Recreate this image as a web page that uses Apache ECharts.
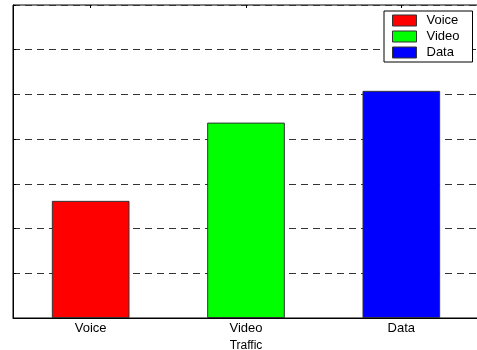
<!DOCTYPE html>
<html><head><meta charset="utf-8">
<script src="https://cdn.jsdelivr.net/npm/echarts@6/dist/echarts.min.js"></script>
<style>html,body{margin:0;padding:0;background:#fff}#c{width:477px;height:350px}</style>
</head><body><div id="c"></div>
<script>
var categories = ['Voice', 'Video', 'Data'];
var seriesNames = ['Voice', 'Video', 'Data'];
var values = [2.62, 4.37, 5.08];
var colors = ['#ff0000', '#00ff00', '#0000ff'];
var xAxisName = 'Traffic';

var series = seriesNames.map(function (n, i) {
  var d = categories.map(function (c, j) { return j === i ? values[i] : '-'; });
  return {
    name: n, type: 'bar', data: d, barWidth: '50%', barGap: '-100%',
    itemStyle: { color: colors[i], borderColor: '#333', borderWidth: 1 },
    silent: true
  };
});

var chart = echarts.init(document.getElementById('c'), null, { renderer: 'canvas' });
chart.setOption({
  animation: false,
  textStyle: { fontFamily: 'Liberation Sans, Arial, sans-serif' },
  grid: { left: 13, top: 5, width: 466, height: 313, outerBoundsMode: 'none', containLabel: false, show: true, borderColor: '#000', borderWidth: 1, backgroundColor: 'transparent' },
  legend: {
    data: seriesNames, orient: 'vertical', left: 384, top: 11, icon: 'rect',
    backgroundColor: '#fff', borderColor: '#000', borderWidth: 1,
    padding: [3, 13, 3, 8], itemWidth: 24, itemHeight: 11, itemGap: 3,
    itemStyle: { borderColor: '#333', borderWidth: 1 },
    textStyle: { fontSize: 13, color: '#000', lineHeight: 13, padding: [0, 0, 0, 5], fontFamily: 'Liberation Sans, Arial, sans-serif' }
  },
  xAxis: [{
    type: 'category', data: categories, position: 'bottom',
    name: xAxisName, nameLocation: 'middle', nameGap: 15,
    nameTextStyle: { fontSize: 12, color: '#000' },
    axisLine: { lineStyle: { color: '#000', width: 1 } },
    axisTick: { show: true, inside: true, length: 3, alignWithLabel: true, lineStyle: { color: '#000' } },
    axisLabel: { fontSize: 13, color: '#000', margin: 4 }
  }, {
    type: 'category', data: categories, position: 'top',
    axisLine: { show: false },
    axisTick: { show: true, inside: true, length: 3, alignWithLabel: true, lineStyle: { color: '#000' } },
    axisLabel: { show: false }
  }],
  yAxis: {
    type: 'value', min: 0, max: 7, interval: 1,
    axisLine: { show: true, lineStyle: { color: '#000', width: 1 } },
    axisTick: { show: true, inside: true, length: 3, lineStyle: { color: '#000' } },
    axisLabel: { show: false },
    splitLine: { show: true, lineStyle: { color: '#333', type: [7, 5], width: 1 } }
  },
  series: series
});
</script></body></html>
